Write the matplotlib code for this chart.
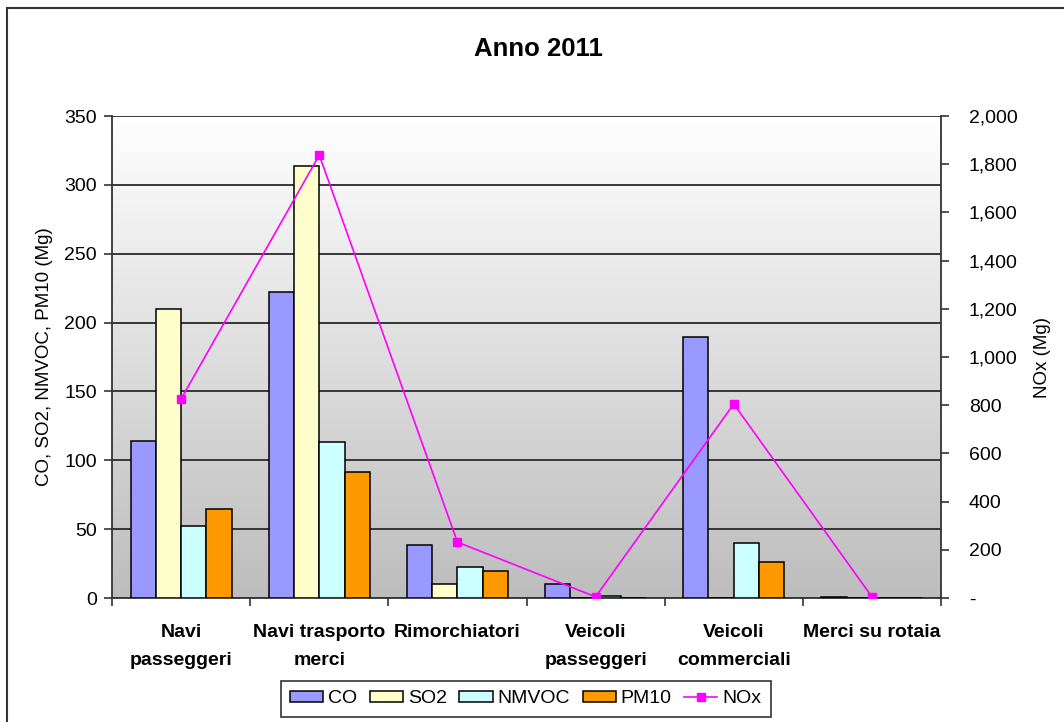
import numpy as np
import matplotlib.pyplot as plt
from matplotlib.ticker import FuncFormatter, FixedLocator
from matplotlib.patches import Rectangle
from matplotlib.colors import LinearSegmentedColormap

plt.rcParams['font.family'] = ['Liberation Sans', 'DejaVu Sans']

categorie = ['Navi\npasseggeri', 'Navi trasporto\nmerci', 'Rimorchiatori',
             'Veicoli\npasseggeri', 'Veicoli\ncommerciali', 'Merci su rotaia']
co = [114, 222, 38.5, 10, 189.5, 0.5]
so2 = [210, 314, 10, 0, 0, 0]
nmvoc = [52, 113, 22.7, 1.5, 40, 0]
pm10 = [64.6, 91.5, 19.8, 0, 26.3, 0]
nox = [826, 1838, 232, 5, 805, 5]

serie = [('CO', co, '#9999ff'), ('SO2', so2, '#ffffcc'),
         ('NMVOC', nmvoc, '#ccffff'), ('PM10', pm10, '#ff9900')]

fig = plt.figure(figsize=(10.64, 7.22), dpi=100)
ax = fig.add_axes([0.1053, 0.1717, 0.7791, 0.6676])

# sfondo sfumato
grad = np.linspace(0, 1, 256).reshape(-1, 1)
cmap = LinearSegmentedColormap.from_list('g', ['#ffffff', '#bdbdbd'])
ax.imshow(grad, extent=[0, 1, 0, 1], transform=ax.transAxes, aspect='auto',
          cmap=cmap, zorder=0)

x = np.arange(len(categorie))
w = 0.183
handles = []
for i, (nome, val, col) in enumerate(serie):
    b = ax.bar(x + (i - 1.5) * w, val, w, color=col, edgecolor='black', linewidth=1.1,
               zorder=3, label=nome)
    handles.append(b)

ax.set_xlim(-0.5, 5.5)
ax.set_ylim(0, 350)
ax.set_yticks(np.arange(0, 351, 50))
ax.grid(axis='y', color='#2a2a2a', linewidth=1.3)
for g in ax.get_ygridlines():
    g.set_zorder(1)
ax.xaxis.set_major_locator(FixedLocator(np.arange(-0.5, 6, 1)))
ax.xaxis.set_major_formatter(FuncFormatter(lambda v, p: ''))
ax.xaxis.set_minor_locator(FixedLocator(x))
ax.set_xticklabels(categorie, minor=True, fontsize=14, fontweight='bold', linespacing=1.8)
ax.tick_params(axis='x', which='minor', length=0, pad=19)
ax.tick_params(axis='x', which='major', length=6, width=1.2, color='#333333')
ax.tick_params(axis='y', length=6, width=1.2, color='#333333', labelsize=14, pad=5)
for s in ['top', 'right']:
    ax.spines[s].set_visible(False)
for s in ['left', 'bottom']:
    ax.spines[s].set_color('#333333')
    ax.spines[s].set_linewidth(1.3)
ax.set_ylabel('CO, SO2, NMVOC, PM10 (Mg)', fontsize=13.5, labelpad=8)

ax2 = ax.twinx()
ln, = ax2.plot(x, nox, color='#ff00ff', linewidth=1.2, marker='s', markersize=6,
               label='NOx', zorder=5)
ax2.set_ylim(0, 2000)
ax2.set_yticks(np.arange(0, 2001, 200))
ax2.yaxis.set_major_formatter(FuncFormatter(lambda v, p: '-' if v == 0 else f'{int(v):,}'))
ax2.tick_params(axis='y', length=6, width=1.2, color='#333333', labelsize=14, pad=14)
for s in ['top', 'left', 'bottom']:
    ax2.spines[s].set_visible(False)
ax2.spines['right'].set_color('#333333')
ax2.spines['right'].set_linewidth(1.3)
ax2.set_ylabel('NOx (Mg)', fontsize=13.5, labelpad=12)

fig.text(0.506, 0.932, 'Anno 2011', ha='center', va='center', fontsize=18.5, fontweight='bold')

leg = fig.legend(handles + [ln], ['CO', 'SO2', 'NMVOC', 'PM10', 'NOx'], ncol=5,
                 loc='center', bbox_to_anchor=(0.494, 0.032), fontsize=14,
                 frameon=True, fancybox=False, edgecolor='black', handlelength=1.7,
                 handleheight=0.55, columnspacing=0.65, handletextpad=0.25,
                 borderpad=0.5, borderaxespad=0)
leg.get_frame().set_linewidth(1.2)

# cornice del grafico
fig.patches.append(Rectangle((7 / 1064, -0.05), 1.1, 0.05 + 714 / 722,
                             transform=fig.transFigure, fill=False,
                             edgecolor='#333333', linewidth=1.5))

fig.savefig('out.png', dpi=100)
